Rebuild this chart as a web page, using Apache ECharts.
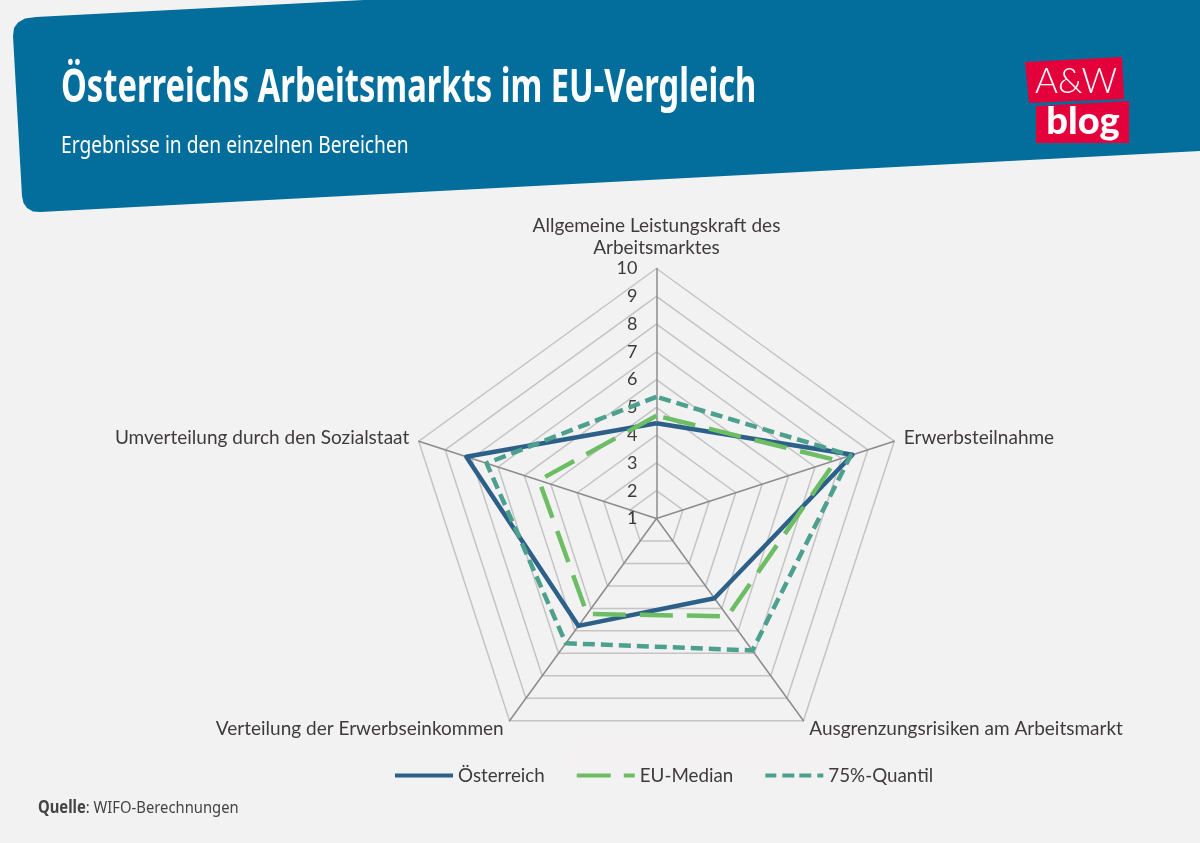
<!DOCTYPE html>
<html>
<head>
    <meta charset="UTF-8">
    <title>Österreichs Arbeitsmarkts im EU-Vergleich</title>
    <script src="https://cdn.jsdelivr.net/npm/echarts@6/dist/echarts.min.js"></script>
    <style>
        html, body { margin: 0; padding: 0; background: #f2f2f2; }
    </style>
</head>
<body>
    <div id="main" style="width: 1200px;height:843px;"></div>
    <script type="text/javascript">
        var myChart = echarts.init(document.getElementById('main'));

        // Daten, Reihenfolge wie ECharts zeichnet (gegen den Uhrzeigersinn ab oben)
        var bereiche = [
            'Allgemeine Leistungskraft des\nArbeitsmarktes',
            'Umverteilung durch den Sozialstaat',
            'Verteilung der Erwerbseinkommen',
            'Ausgrenzungsrisiken am Arbeitsmarkt',
            'Erwerbsteilnahme'
        ];
        var oesterreich = [4.43, 8.2, 5.78, 4.55, 8.42];
        var euMedian = [4.7, 5.45, 5.25, 5.35, 7.8];
        var quantil75 = [5.38, 7.43, 6.55, 6.87, 8.35];

        var chartFont = 'Lato';
        var headFont = 'Noto Sans';
        var textColor = '#3f3b3b';

        var indicators = bereiche.map(function(name, i) {
            var item = { name: name, min: 1, max: 10 };
            // nur die erste Achse bekommt Zahlen
            if (i === 0) {
                item.axisLabel = {
                    show: true, showMinLabel: true, showMaxLabel: true,
                    color: textColor, fontFamily: chartFont, fontSize: 18, margin: 19
                };
            }
            return item;
        });

        var option = {
            backgroundColor: '#f2f2f2',
            animation: false,
            legend: {
                left: 395, top: 766, padding: 0,
                itemWidth: 58, itemHeight: 4, itemGap: 32,
                textStyle: { color: textColor, fontFamily: chartFont, fontSize: 18.8 },
                data: [
                    { name: 'Österreich', icon: 'path://M0 0H58V4H0Z' },
                    { name: 'EU-Median', icon: 'path://M0 0H34V4H0Z M47 0H58V4H47Z' },
                    { name: '75%-Quantil', icon: 'path://M0 0H11V4H0Z M17 0H29V4H17Z M34 0H46V4H34Z M52 0H58V4H52Z' }
                ]
            },
            radar: {
                center: [656.5, 518.5],
                radius: 250,
                startAngle: 90,
                splitNumber: 9,
                nameGap: 10,
                shape: 'polygon',
                axisName: { color: textColor, fontFamily: chartFont, fontSize: 19, lineHeight: 22 },
                axisLine: { lineStyle: { color: '#8c8c8c', width: 1.5 } },
                splitLine: { lineStyle: { color: '#c4c4c4', width: 1.5 } },
                splitArea: { show: false },
                indicator: indicators
            },
            series: [
                {
                    type: 'radar',
                    symbol: 'none',
                    data: [
                        { name: 'Österreich', value: oesterreich,
                          itemStyle: { color: '#2d6088' },
                          lineStyle: { color: '#2d6088', width: 4.5 } },
                        { name: 'EU-Median', value: euMedian,
                          itemStyle: { color: '#6cbd64' },
                          lineStyle: { color: '#6cbd64', width: 4.5, type: [33, 14] } },
                        { name: '75%-Quantil', value: quantil75,
                          itemStyle: { color: '#4da08d' },
                          lineStyle: { color: '#4da08d', width: 4.5, type: [12, 6] } }
                    ]
                }
            ],
            graphic: [
                // Kopfband
                {
                    type: 'polygon', z: -10,
                    shape: { points: [
                        [36, 17], [364, 0], [1200, 0], [1200, 151], [40, 212],
                        [33, 211.5], [27, 208], [23.5, 203], [22, 196],
                        [13, 36], [14, 28], [18, 22.5], [25, 18.5]
                    ] },
                    style: { fill: '#036e9b' }
                },
                // heller Fleck über der Legende
                {
                    type: 'rect', z: -10,
                    shape: { x: 571, y: 740, width: 257, height: 28 },
                    style: { fill: '#f3f1f2' }
                },
                // Logo
                {
                    type: 'polygon', z: -5,
                    shape: { points: [[1025, 62], [1122, 57], [1124, 99], [1029, 103]] },
                    style: { fill: '#e4003a' }
                },
                {
                    type: 'polygon', z: -5,
                    shape: { points: [[1036, 106], [1129, 101], [1129, 143], [1036, 143]] },
                    style: { fill: '#e4003a' }
                },
                {
                    type: 'text', z: 5, x: 1076, y: 82,
                    style: { text: 'A&W', fill: '#fff', fontFamily: 'Lato', fontWeight: 300, fontSize: 35, textAlign: 'center', textVerticalAlign: 'middle' }
                },
                {
                    type: 'text', z: 5, x: 1083, y: 122,
                    style: { text: 'blog', fill: '#fff', fontFamily: 'Lato', fontWeight: 900, fontSize: 38, textAlign: 'center', textVerticalAlign: 'middle' }
                },
                // Titel, schmal gezogen
                {
                    type: 'text', z: 5, x: 61, y: 89, scaleX: 0.71,
                    style: { text: 'Österreichs Arbeitsmarkts im EU-Vergleich', fill: '#fff', fontFamily: headFont, fontWeight: 'bold', fontSize: 46, textAlign: 'left', textVerticalAlign: 'middle' }
                },
                {
                    type: 'text', z: 5, x: 61, y: 146, scaleX: 0.8,
                    style: { text: 'Ergebnisse in den einzelnen Bereichen', fill: '#fff', fontFamily: headFont, fontSize: 24, textAlign: 'left', textVerticalAlign: 'middle' }
                },
                {
                    type: 'text', z: 5, x: 38, y: 808, scaleX: 0.87,
                    style: {
                        text: '{b|Quelle}: WIFO-Berechnungen', fill: '#444', fontFamily: headFont, fontSize: 17,
                        textAlign: 'left', textVerticalAlign: 'middle',
                        rich: { b: { fontFamily: headFont, fontWeight: 'bold', fontSize: 17, fill: '#444' } }
                    }
                }
            ]
        };

        myChart.setOption(option);
    </script>
</body>
</html>
